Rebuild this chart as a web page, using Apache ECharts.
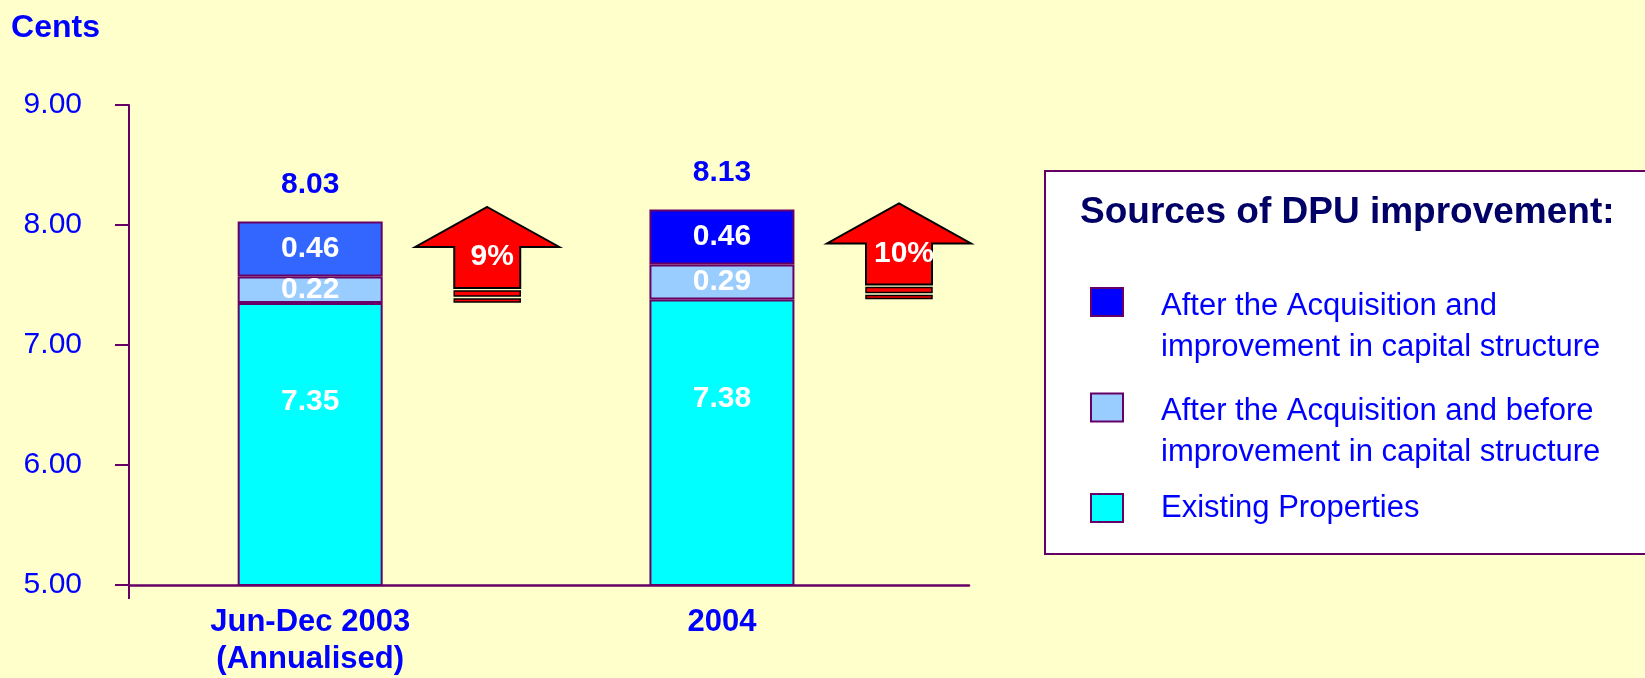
<!DOCTYPE html>
<html><head><meta charset="utf-8">
<script src="https://cdn.jsdelivr.net/npm/echarts@6/dist/echarts.min.js"></script>
<style>html,body{margin:0;padding:0;background:#ffffcc;}#chart{width:1645px;height:678px;}</style>
</head><body><div id="chart"></div>
<script>
// ---- data ----
const categories = ['Jun-Dec 2003\n(Annualised)', '2004'];
const existingProperties = [7.35, 7.38];
const beforeCapital = [0.22, 0.29];
const afterCapital = [0.46, 0.46];
const totals = [8.03, 8.13];
const growth = ['9%', '10%'];
const seriesNames = [
  'After the Acquisition and\nimprovement in capital structure',
  'After the Acquisition and before\nimprovement in capital structure',
  'Existing Properties'
];
const legendTitle = 'Sources of DPU improvement:';
const yName = 'Cents';
const yMin = 5, yMax = 9, yStep = 1;

// ---- style / layout ----
const FONT = "'Liberation Sans', Arial, sans-serif";
const BLUE = '#0000ff', EDGE = '#660066';
const X_MIN = -0.44, X_MAX = 1.6, ARROW_DX = 0.43;
const legendTops = [236.5, 342, 487.5];

const pts = arr => arr.map((v, i) => [i, v]);
// value first, category index second (so stacking is done on the value dimension)
const stackPts = arr => arr.map((v, i) => [v, i]);
const barLabel = (arr, extra) => Object.assign({
  show: true, color: '#ffffff', fontWeight: 'bold', fontSize: 30, fontFamily: FONT,
  formatter: p => arr[p.dataIndex].toFixed(2)
}, extra);

const chart = echarts.init(document.getElementById('chart'));
chart.setOption({
  animation: false,
  backgroundColor: '#ffffcc',
  grid: { left: 129, right: 676, top: 105, bottom: 90, containLabel: false },
  title: [{
    text: legendTitle, left: 1045, top: 171, padding: [23, 45, 323, 35],
    backgroundColor: '#ffffff', borderColor: EDGE, borderWidth: 2, z: 1,
    textStyle: { color: '#000066', fontWeight: 'bold', fontSize: 37, fontFamily: FONT }
  }],
  legend: [0, 1, 2].map(k => {
    const twoLine = seriesNames[k].indexOf('\n') >= 0;
    return {
      data: [seriesNames[k]], orient: 'vertical', left: 1090, top: legendTops[k], padding: 0,
      itemWidth: 32, itemHeight: 28, selectedMode: false, z: 5, icon: 'rect',
      itemStyle: { borderColor: EDGE, borderWidth: 2 },
      formatter: name => twoLine ? name.split('\n').map(s => '{t|' + s + '}').join('\n') : name,
      textStyle: {
        color: BLUE, fontSize: 31, fontFamily: FONT, lineHeight: 41,
        padding: twoLine ? [49, 0, 0, 33] : [0, 0, 0, 33], backgroundColor: 'transparent',
        rich: { t: { color: BLUE, fontSize: 31, fontFamily: FONT, lineHeight: 41 } }
      }
    };
  }),
  xAxis: {
    type: 'value', min: X_MIN, max: X_MAX,
    axisLine: { show: true, onZero: false, lineStyle: { color: EDGE, width: 2.5 } },
    axisTick: { show: true, customValues: [X_MIN], length: 14, lineStyle: { color: EDGE, width: 2 } },
    axisLabel: {
      customValues: [0, 1], formatter: v => categories[Math.round(v)],
      color: BLUE, fontWeight: 'bold', fontSize: 31, lineHeight: 37, margin: 19, fontFamily: FONT
    },
    splitLine: { show: false }
  },
  yAxis: {
    type: 'value', min: yMin, max: yMax, interval: yStep,
    name: yName, nameLocation: 'end', nameGap: 77,
    nameTextStyle: { color: BLUE, fontWeight: 'bold', fontSize: 32, fontFamily: FONT, align: 'right', verticalAlign: 'middle', padding: [0, 29, 0, 0] },
    axisLine: { show: true, onZero: false, lineStyle: { color: EDGE, width: 2 } },
    axisTick: { show: true, length: 14, lineStyle: { color: EDGE, width: 2 } },
    axisLabel: { color: BLUE, fontSize: 30, fontFamily: FONT, margin: 47, formatter: v => v.toFixed(2) },
    splitLine: { show: false }
  },
  series: [
    {
      name: seriesNames[2], type: 'bar', stack: 'dpu', barWidth: 145, encode: { x: 1, y: 0 },
      data: stackPts(existingProperties),
      itemStyle: { color: '#00ffff', borderColor: EDGE, borderWidth: 2 },
      label: barLabel(existingProperties, { position: 'insideTop', distance: 84 })
    },
    {
      name: seriesNames[1], type: 'bar', stack: 'dpu', barWidth: 145, encode: { x: 1, y: 0 },
      data: stackPts(beforeCapital),
      itemStyle: { color: '#99ccff', borderColor: EDGE, borderWidth: 2 },
      label: barLabel(beforeCapital, { position: 'inside' })
    },
    {
      name: seriesNames[0], type: 'bar', stack: 'dpu', barWidth: 145, encode: { x: 1, y: 0 },
      data: afterCapital.map((v, i) => i === 0 ? { value: [v, i], itemStyle: { color: '#3366ff' } } : [v, i]),
      itemStyle: { color: BLUE, borderColor: EDGE, borderWidth: 2 },
      label: barLabel(afterCapital, { position: 'inside' })
    },
    {
      name: 'total', type: 'scatter', symbolSize: 0, silent: true,
      itemStyle: { opacity: 1 },
      data: pts(totals),
      label: { show: true, position: 'top', distance: 22, color: BLUE, fontWeight: 'bold', fontSize: 30, fontFamily: FONT,
        formatter: p => totals[p.dataIndex].toFixed(2) }
    },
    {
      name: 'growth', type: 'custom', silent: true, z: 5,
      data: pts(existingProperties),
      renderItem: (params, api) => {
        const i = params.dataIndex;
        const p = api.coord([api.value(0) + ARROW_DX, api.value(1)]);
        const cx = p[0], by = p[1];
        const red = '#ff0000';
        return {
          type: 'group', children: [
            { type: 'polygon', shape: { points: [[cx, by - 96], [cx + 72, by - 56], [cx + 33, by - 56], [cx + 33, by - 15], [cx - 33, by - 15], [cx - 33, by - 56], [cx - 72, by - 56]] },
              style: { fill: red, stroke: '#000', lineWidth: 2 } },
            { type: 'rect', shape: { x: cx - 33, y: by - 12, width: 66, height: 5 }, style: { fill: red, stroke: '#000', lineWidth: 1.5 } },
            { type: 'rect', shape: { x: cx - 33, y: by - 4, width: 66, height: 3 }, style: { fill: red, stroke: '#000', lineWidth: 1.5 } },
            { type: 'text', style: { text: growth[i], x: cx + 5, y: by - 46, fill: '#ffffff', fontSize: 30, fontWeight: 'bold', fontFamily: FONT, align: 'center', verticalAlign: 'middle' } }
          ]
        };
      }
    }
  ]
});
</script></body></html>
